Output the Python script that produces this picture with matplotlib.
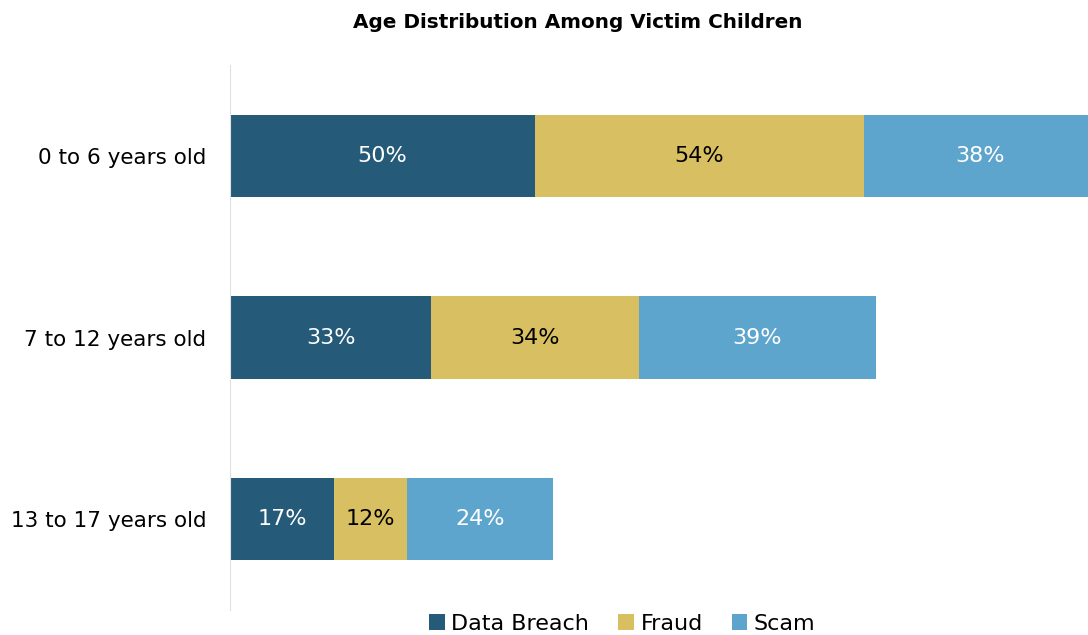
import numpy as np
import matplotlib.pyplot as plt

plt.rcParams['font.family'] = ['DejaVu Sans']

ages = ['0 to 6 years old', '7 to 12 years old', '13 to 17 years old']
data_breach = [50, 33, 17]
fraud = [54, 34, 12]
scam = [38, 39, 24]

series = [('Data Breach', data_breach, '#255A78', 'white'),
          ('Fraud', fraud, '#D8C062', 'black'),
          ('Scam', scam, '#5EA5CD', 'white')]

fig = plt.figure(figsize=(10.88, 6.35), dpi=100)
ax = fig.add_axes([0.2114, 0.0394, 0.7886, 0.8582])

y = np.arange(len(ages))
left = np.zeros(len(ages))
for name, vals, color, tcolor in series:
    vals = np.array(vals, dtype=float)
    ax.barh(y, vals, left=left, height=0.455, color=color, label=name)
    for yi, l, v in zip(y, left, vals):
        ax.text(l + v / 2, yi, f'{int(v)}%', ha='center', va='center',
                color=tcolor, fontsize=16, clip_on=True)
    left += vals

ax.set_xlim(0, 140.7)
ax.set_ylim(2.5, -0.5)
ax.set_yticks(y)
ax.set_yticklabels(ages, fontsize=15.5)
ax.set_xticks([])
ax.tick_params(axis='y', length=0, pad=17)
for s in ['top', 'right', 'bottom']:
    ax.spines[s].set_visible(False)
ax.spines['left'].set_color('#E0E0E0')

fig.text(0.531, 0.965, 'Age Distribution Among Victim Children', fontsize=14.4,
         fontweight='bold', ha='center', va='center')

handles, labels = ax.get_legend_handles_labels()
fig.legend(handles, labels, loc='center', bbox_to_anchor=(0.572, 0.018),
           ncol=3, frameon=False, fontsize=16, handlelength=0.7,
           handleheight=0.7, handletextpad=0.3, columnspacing=1.3)

fig.savefig('out.png')
